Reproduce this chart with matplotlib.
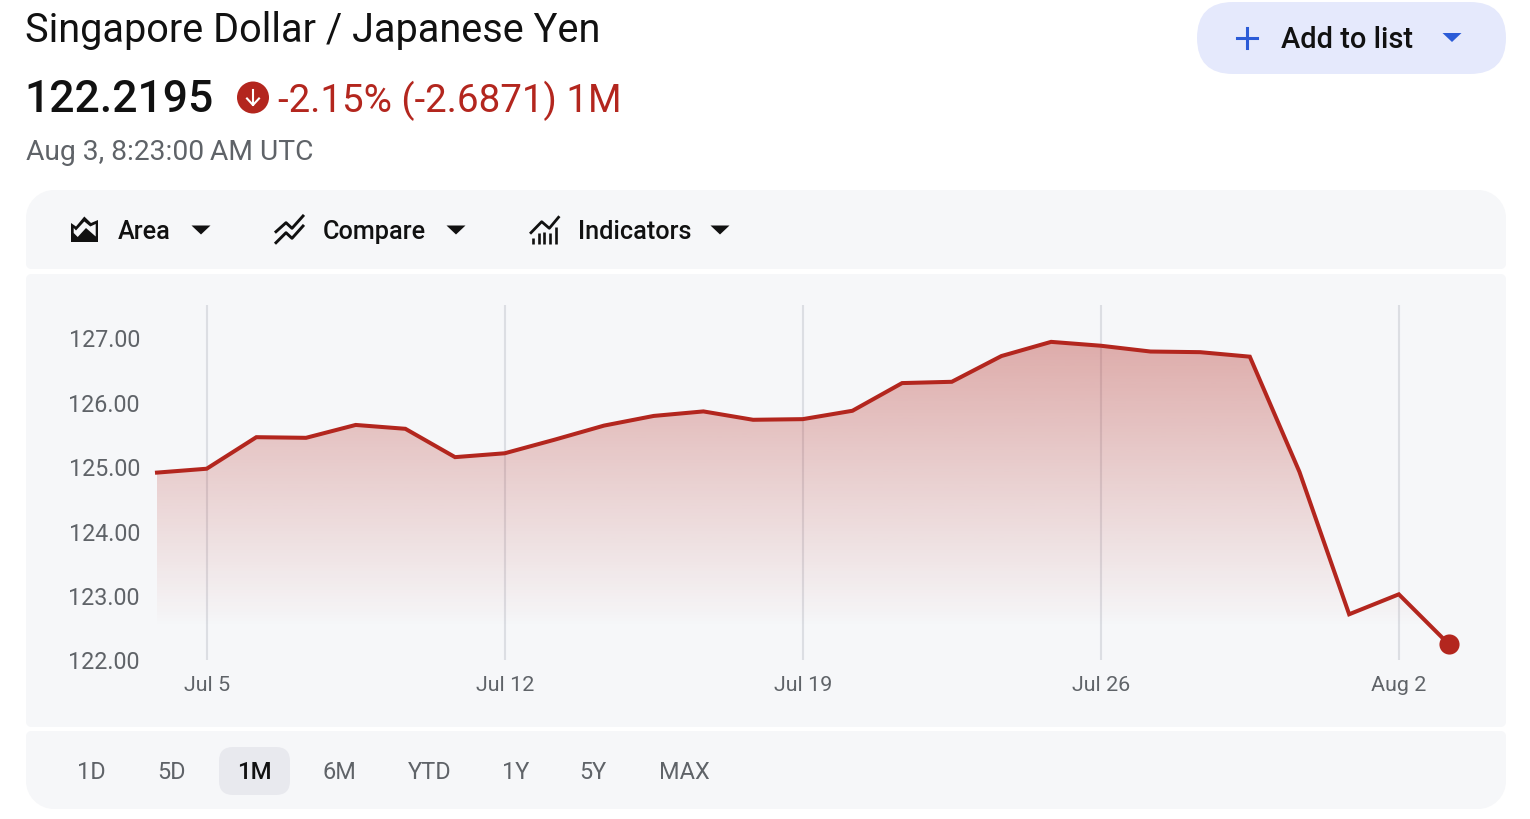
#!/usr/bin/env python3
"""Singapore Dollar / Japanese Yen one month quote card."""

import matplotlib
matplotlib.use("Agg")
import matplotlib.pyplot as plt
import numpy as np
from matplotlib.patches import Circle, FancyBboxPatch, PathPatch, Polygon
from matplotlib.path import Path
from matplotlib.transforms import ScaledTranslation

W, H = 1530, 820

# one value per trading session
prices = [124.91, 124.97, 125.46, 125.45, 125.65, 125.59, 125.15, 125.21, 125.42,
          125.64, 125.79, 125.86, 125.73, 125.74, 125.87, 126.30, 126.32, 126.72,
          126.94, 126.88, 126.79, 126.78, 126.71, 124.92, 122.71, 123.02, 122.25]
date_ticks = [1, 7, 13, 19, 25]
date_labels = ["Jul 5", "Jul 12", "Jul 19", "Jul 26", "Aug 2"]
price_ticks = [122, 123, 124, 125, 126, 127]
ranges = ["1D", "5D", "1M", "6M", "YTD", "1Y", "5Y", "MAX"]
range_centres = [91, 172, 254, 339, 430, 516, 593, 684]

RED = "#b3261e"
PANEL = "#f6f7f9"
GREY = "#5f6368"
INK = "#111111"
BLUE = "#2b5bd7"

plt.rcParams["font.family"] = ["Roboto", "DejaVu Sans"]


def px(size):
    return size * 72 / 100


def rounded_panel(ax, x0, y0, x1, y1, top_r, bottom_r, color):
    k = 0.45
    verts = [
        (x0 + top_r, y0), (x1 - top_r, y0),
        (x1 - top_r * k, y0), (x1, y0 + top_r * k), (x1, y0 + top_r),
        (x1, y1 - bottom_r),
        (x1, y1 - bottom_r * k), (x1 - bottom_r * k, y1), (x1 - bottom_r, y1),
        (x0 + bottom_r, y1),
        (x0 + bottom_r * k, y1), (x0, y1 - bottom_r * k), (x0, y1 - bottom_r),
        (x0, y0 + top_r),
        (x0, y0 + top_r * k), (x0 + top_r * k, y0), (x0 + top_r, y0),
    ]
    codes = [Path.MOVETO, Path.LINETO, Path.CURVE4, Path.CURVE4, Path.CURVE4, Path.LINETO,
             Path.CURVE4, Path.CURVE4, Path.CURVE4, Path.LINETO,
             Path.CURVE4, Path.CURVE4, Path.CURVE4, Path.LINETO,
             Path.CURVE4, Path.CURVE4, Path.CURVE4]
    ax.add_patch(PathPatch(Path(verts, codes), facecolor=color, edgecolor="none"))


def caret(ax, cx, cy, color, half=9.5, height=9):
    ax.add_patch(Polygon([(cx - half, cy - height / 2), (cx + half, cy - height / 2), (cx, cy + height / 2)],
                         closed=True, facecolor=color, edgecolor="none"))


def draw_icons(ax):
    # area icon
    outer = [(71, 223), (76, 226.5), (84.3, 216.5), (91, 223), (98, 220), (98, 242), (71, 242)]
    inner = [(73.7, 228), (76, 230.5), (84.3, 221.5), (90.3, 226.5), (95.7, 224), (95.7, 236.5),
             (86, 228), (77.7, 237), (73.7, 233)]
    ax.add_patch(Polygon(outer, closed=True, facecolor=INK, edgecolor="none"))
    ax.add_patch(Polygon(inner, closed=True, facecolor=PANEL, edgecolor="none"))
    # compare icon
    ax.plot([276, 286, 292, 303], [231.7, 222.7, 228.3, 216], color=INK, lw=2.1)
    ax.plot([276, 286, 292, 303], [242.7, 232.7, 238.3, 226], color=INK, lw=2.1)
    # indicators icon
    ax.plot([531, 541.7, 549.3, 558.5], [232.7, 221.7, 228.3, 217.3], color=INK, lw=2.0)
    for bx, top in zip([532.7, 538.7, 544.3, 550.3, 556.3], [238.3, 232.7, 231.7, 233.3, 226.7]):
        ax.plot([bx, bx], [243.5, top], color=INK, lw=1.9, solid_capstyle="butt")


def draw_card(ax):
    rounded_panel(ax, 26, 190, 1506, 269, 28, 5, PANEL)
    rounded_panel(ax, 26, 274, 1506, 727, 5, 5, PANEL)
    rounded_panel(ax, 26, 731, 1506, 809, 5, 28, PANEL)
    ax.add_patch(FancyBboxPatch((1197 + 36, 2 + 36), 309 - 72, 0, boxstyle="round,pad=36,rounding_size=36",
                                facecolor="#e5e9fc", edgecolor="none"))
    ax.add_patch(FancyBboxPatch((219 + 14, 747 + 14), 71 - 28, 48 - 28, boxstyle="round,pad=14,rounding_size=14",
                                facecolor="#e8e9ee", edgecolor="none"))

    ax.text(25.5, 30, "Singapore Dollar / Japanese Yen", fontsize=px(39.6), color=INK, va="center")
    ax.text(24.5, 98.5, "122.2195", fontsize=px(44.5), color=INK, va="center", fontweight="medium")
    ax.add_patch(Circle((253, 97.5), 16, facecolor=RED, edgecolor="none"))
    ax.plot([253, 253], [89.5, 104.5], color="white", lw=1.5)
    ax.plot([247, 253, 259], [98.5, 105, 98.5], color="white", lw=1.5)
    ax.text(278, 99.5, "-2.15% (-2.6871) 1M", fontsize=px(38.5), color=RED, va="center")
    ax.text(26, 151, "Aug 3, 8:23:00\u2009AM UTC", fontsize=px(28.2), color=GREY, va="center")

    # add to list button
    ax.plot([1237, 1257], [37.5, 37.5], color=BLUE, lw=2.2)
    ax.plot([1247, 1247], [27.5, 47.5], color=BLUE, lw=2.2)
    ax.text(1281, 39.5, "Add to list", fontsize=px(29), color=INK, va="center", fontweight="medium")
    caret(ax, 1452, 37.5, BLUE)

    for x, label in [(118, "Area"), (323, "Compare"), (578, "Indicators")]:
        ax.text(x, 231, label, fontsize=px(25.3), color=INK, va="center", fontweight="medium")
    for cx in [201, 456, 720]:
        caret(ax, cx, 230, INK)
    draw_icons(ax)

    for cx, label in zip(range_centres, ranges):
        active = label == "1M"
        ax.text(cx, 772, label, fontsize=px(24 if active else 23.5), ha="center", va="center",
                color=INK if active else GREY, fontweight="medium" if active else "normal")


def draw_chart(fig):
    # 122 sits at pixel 661, 127 at 339; the grid reaches up to 306
    left, right, top, bottom = 157, 1448.5, 306, 661
    ax = fig.add_axes([left / W, 1 - bottom / H, (right - left) / W, (bottom - top) / H],
                      facecolor="none", zorder=2)
    per_unit = (661 - 339) / 5
    ymax = 122 + (bottom - top) / per_unit
    xs = np.arange(len(prices))

    ax.set_xlim(0, len(prices) - 1)
    ax.set_ylim(122, ymax)

    alpha = np.clip((np.linspace(ymax, 122, 256) - 122.5) / (126.94 - 122.5), 0, 1) * 0.36
    rgba = np.zeros((256, 1, 4))
    rgba[..., :3] = matplotlib.colors.to_rgb(RED)
    rgba[:, 0, 3] = alpha
    image = ax.imshow(rgba, extent=(0, len(prices) - 1, 122, ymax), aspect="auto", origin="upper", zorder=1)
    clip = ax.fill_between(xs, prices, 122, color="none", zorder=1)
    image.set_clip_path(clip.get_paths()[0], transform=ax.transData)
    ax.set_xlim(0, len(prices) - 1)
    ax.set_ylim(122, ymax)

    ax.set_xticks(date_ticks, date_labels)
    ax.set_yticks(price_ticks, [f"{v:.2f}" for v in price_ticks])
    ax.tick_params(axis="both", length=0, labelcolor=GREY)
    ax.tick_params(axis="x", labelsize=px(21.5), pad=px(15))
    ax.tick_params(axis="y", labelsize=px(23.2), pad=px(17))
    # nudge the price labels down to where the reference has them
    nudge = ScaledTranslation(0, -2 / 100, fig.dpi_scale_trans)
    for label in ax.get_yticklabels():
        label.set_verticalalignment("center")
        label.set_transform(label.get_transform() + nudge)
    ax.grid(axis="x", color="#dcdee3", lw=1.5, zorder=0)
    ax.set_axisbelow(True)
    for spine in ax.spines.values():
        spine.set_visible(False)

    ax.plot(xs, prices, color=RED, lw=2.9, solid_joinstyle="miter", zorder=3, clip_on=False)
    ax.plot(xs[-1], prices[-1], "o", color=RED, ms=14.5, mew=0, zorder=4, clip_on=False)


def main():
    fig = plt.figure(figsize=(W / 100, H / 100), dpi=100, facecolor="white")
    bg = fig.add_axes([0, 0, 1, 1], zorder=1)
    bg.set_xlim(0, W)
    bg.set_ylim(H - 1, -1)
    bg.axis("off")
    draw_card(bg)
    draw_chart(fig)
    fig.savefig("out.png", dpi=100)


if __name__ == "__main__":
    main()
